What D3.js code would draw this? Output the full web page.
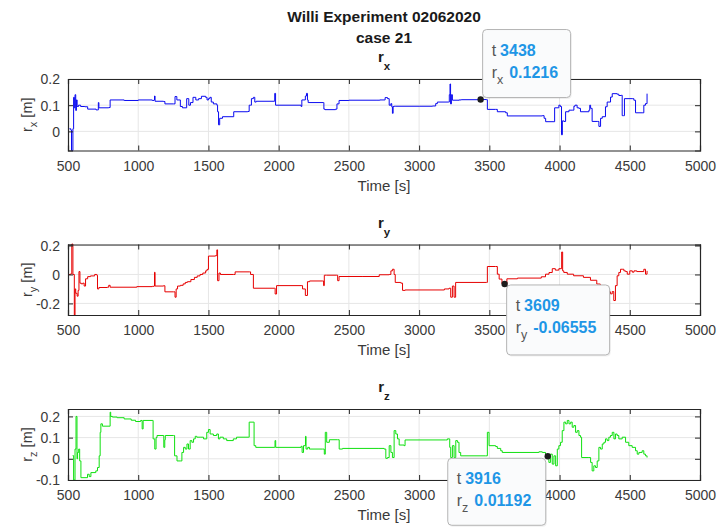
<!DOCTYPE html>
<html><head><meta charset="utf-8">
<script src="https://cdn.jsdelivr.net/npm/d3@7"></script>
<style>
html,body{margin:0;padding:0;background:#fff;}
svg{display:block;font-family:"Liberation Sans",Arial,Helvetica,sans-serif;}
</style></head>
<body>
<svg id="chart" width="718" height="527"></svg>
<script>
const figTitle = ["Willi Experiment 02062020", "case 21"];
const xTicks = [500, 1000, 1500, 2000, 2500, 3000, 3500, 4000, 4500, 5000];

const rxTime = [510,520,525,532,535,540,545,550,555,560,565,575,590,620,640,700,712,716,720,790,800,900,1000,1100,1112,1116,1120,1180,1190,1250,1262,1275,1300,1315,1345,1360,1372,1390,1410,1430,1450,1480,1490,1500,1510,1520,1535,1560,1565,1572,1580,1600,1675,1680,1780,1790,1800,1806,1820,1830,1840,1970,1972,1978,2160,2165,2190,2198,2205,2210,2318,2322,2330,2405,2415,2430,2500,2700,2720,2751,2758,2775,2787,2799,2805,2810,2815,2822,2834,3000,3095,3118,3130,3210,3215,3220,3224,3230,3237,3284,3300,3438,3480,3486,3545,3557,3616,3628,3877,3890,3901,3960,3965,3995,4005,4014,4020,4031,4043,4067,4090,4102,4110,4125,4138,4149,4209,4215,4221,4232,4268,4280,4292,4304,4327,4339,4363,4375,4410,4422,4440,4446,4455,4462,4517,4529,4541,4588,4600,4612,4623];
const rxValue = [0.01,0.005,-0.073,-0.073,0.01,0.13,0.09,0.14,0.08,0.12,0.095,0.1,0.095,0.094,0.085,0.082,0.082,0.11,0.09,0.091,0.12,0.118,0.12,0.118,0.12,0.135,0.115,0.114,0.105,0.105,0.133,0.12,0.095,0.09,0.125,0.1,0.11,0.13,0.12,0.125,0.134,0.13,0.12,0.125,0.13,0.112,0.105,0.1,0.075,0.025,0.05,0.056,0.056,0.075,0.076,0.1,0.1,0.125,0.13,0.112,0.115,0.116,0.145,0.1,0.095,0.12,0.135,0.145,0.12,0.11,0.11,0.085,0.083,0.085,0.105,0.118,0.119,0.119,0.12,0.12,0.129,0.125,0.1,0.106,0.094,0.069,0.095,0.096,0.096,0.096,0.097,0.106,0.112,0.112,0.14,0.181,0.105,0.14,0.119,0.12,0.121,0.1216,0.121,0.084,0.084,0.075,0.071,0.059,0.06,0.05,0.037,0.037,0.09,0.1,0.095,-0.013,0.04,0.038,0.075,0.081,0.081,0.096,0.1,0.09,0.088,0.075,0.081,0.1,0.088,0.038,0.038,0.019,0.05,0.056,0.094,0.112,0.131,0.144,0.142,0.137,0.138,0.06,0.06,0.125,0.125,0.119,0.071,0.071,0.1,0.106,0.144];

const ryTime = [505,520,527,535,545,550,555,565,572,578,585,595,605,615,625,640,660,690,705,710,720,780,790,800,990,1100,1112,1116,1120,1180,1190,1250,1262,1270,1280,1300,1320,1335,1350,1375,1400,1420,1440,1460,1480,1490,1500,1550,1560,1565,1575,1585,1680,1690,1790,1800,1820,1970,1975,1985,2160,2170,2190,2205,2220,2310,2320,2325,2340,2410,2420,2430,2600,2716,2787,2799,2810,2822,2830,2870,2882,2900,3180,3213,3225,3237,3249,3260,3480,3486,3545,3557,3570,3590,3609,3625,3700,3870,3900,3925,3948,3970,3995,4015,4022,4030,4055,4100,4170,4210,4220,4265,4290,4315,4340,4363,4375,4386,4398,4410,4422,4434,4446,4458,4470,4482,4500,4518,4530,4550,4600,4612,4623];
const ryValue = [0.0,0.005,0.21,0.0,-0.28,-0.1,-0.13,-0.15,-0.11,0.02,-0.06,-0.065,-0.06,-0.08,-0.03,-0.015,-0.01,0.0,-0.005,-0.1,-0.09,-0.088,-0.075,-0.088,-0.084,-0.082,-0.08,0.015,-0.08,-0.078,-0.12,-0.12,-0.157,-0.1,-0.08,-0.075,-0.065,-0.055,-0.05,-0.035,-0.02,-0.01,0.0,0.01,0.025,0.035,0.127,0.13,0.17,-0.043,0.01,0.0,0.0,0.018,0.018,0.0,-0.095,-0.095,-0.135,-0.077,-0.077,-0.1,-0.145,-0.05,-0.045,-0.045,-0.077,-0.005,-0.005,-0.005,-0.043,-0.014,-0.014,-0.002,0.0,0.025,0.036,0.0,-0.055,-0.06,-0.11,-0.107,-0.1,-0.095,-0.157,-0.08,-0.157,-0.055,-0.055,0.055,0.055,0.002,-0.032,-0.065,-0.06555,-0.03,-0.025,-0.016,0.002,0.0136,0.04,0.03,0.04,0.155,0.025,0.014,0.002,-0.009,-0.02,-0.02,-0.04,-0.066,-0.089,-0.11,-0.12,-0.134,-0.118,-0.18,-0.077,-0.009,0.014,0.036,0.036,0.025,0.02,0.002,0.025,0.016,0.025,0.02,0.036,0.002,0.025];

const rzTime = [533,540,550,557,564,568,576,583,592,639,651,663,698,710,722,729,734,745,792,800,804,816,850,900,950,981,1017,1028,1035,1099,1106,1118,1127,1134,1177,1182,1189,1193,1252,1259,1276,1299,1311,1323,1335,1347,1358,1370,1382,1394,1406,1417,1441,1465,1488,1500,1512,1535,1559,1571,1582,1606,1630,1677,1700,1783,1790,1818,1825,1837,1971,1974,1979,2160,2167,2177,2191,2195,2207,2219,2313,2325,2332,2342,2361,2420,2431,2455,2714,2751,2763,2775,2787,2799,2810,2822,2834,2846,2858,2893,2900,3190,3201,3218,3225,3237,3249,3261,3273,3284,3296,3474,3486,3498,3545,3557,3581,3592,3853,3877,3900,3916,3924,3936,3948,3960,3972,3984,3995,4007,4019,4031,4043,4055,4067,4079,4090,4102,4114,4126,4138,4149,4157,4209,4221,4232,4244,4256,4268,4280,4292,4304,4316,4327,4339,4351,4363,4375,4387,4398,4410,4422,4446,4470,4493,4517,4541,4553,4565,4588,4600,4612,4623];
const rzValue = [0.015,-0.1,0.046,0.2,0.0,0.03,0.046,-0.01,-0.089,-0.073,-0.084,-0.065,-0.057,-0.041,0.014,0.125,0.165,0.154,0.154,0.22,0.2,0.197,0.194,0.188,0.182,0.176,0.181,0.141,0.181,0.181,0.094,0.046,0.1,0.11,0.11,0.054,0.09,0.11,0.11,0.014,-0.01,-0.01,0.03,0.054,0.046,0.07,0.046,0.086,0.078,0.094,0.106,0.102,0.102,0.094,0.125,0.138,0.117,0.11,0.117,0.094,0.102,0.094,0.086,0.094,0.102,0.102,0.173,0.173,0.062,0.054,0.054,0.086,0.054,0.059,0.03,0.062,0.106,0.046,0.054,0.046,0.046,0.022,0.125,0.078,0.09,0.09,0.046,0.049,0.049,0.046,0.002,0.006,0.062,0.03,0.006,0.133,0.117,0.094,0.065,0.062,0.089,0.089,0.094,0.054,0.006,0.062,0.006,0.086,0.078,0.03,0.014,0.014,0.125,0.062,0.058,0.049,0.038,0.03,0.033,0.03,0.017,0.01192,-0.017,0.022,-0.025,0.014,-0.033,0.046,0.062,0.078,0.133,0.173,0.165,0.181,0.165,0.173,0.149,0.157,0.125,0.133,0.11,0.102,0.006,0.006,-0.017,-0.057,-0.033,-0.041,-0.01,0.054,0.046,0.07,0.078,0.094,0.086,0.102,0.11,0.125,0.094,0.117,0.11,0.094,0.102,0.078,0.062,0.054,0.038,0.022,0.03,0.038,0.022,0.014,0.006];

const panels = [
  {name:"x", time:rxTime, value:rxValue, color:"#0a0af0", yDomain:[-0.073,0.2], yTicks:[0,0.1,0.2], yTickLabels:["0","0.1","0.2"],
   top:79, bottom:150.5, tipT:3438, tipV:0.1216, tipLabel:"0.1216", tipPos:"upright"},
  {name:"y", time:ryTime, value:ryValue, color:"#e60000", yDomain:[-0.28,0.207], yTicks:[-0.2,0,0.2], yTickLabels:["-0.2","0","0.2"],
   top:244.5, bottom:315, tipT:3609, tipV:-0.06555, tipLabel:"-0.06555", tipPos:"downright"},
  {name:"z", time:rzTime, value:rzValue, color:"#10e010", yDomain:[-0.1,0.235], yTicks:[-0.1,0,0.1,0.2], yTickLabels:["-0.1","0","0.1","0.2"],
   top:409, bottom:480, tipT:3916, tipV:0.01192, tipLabel:"0.01192", tipPos:"downleft"}
];

const svg = d3.select("#chart");
const left = 68, right = 700;
const axisCol = "#262626", textCol = "#3a3a3a", gridCol = "#e6e6e6";
const tipLayer = [];

svg.append("text").attr("x",384).attr("y",22).attr("text-anchor","middle")
  .attr("font-size","15.5px").attr("font-weight","bold").attr("fill","#1a1a1a").text(figTitle[0]);
svg.append("text").attr("x",384).attr("y",43).attr("text-anchor","middle")
  .attr("font-size","15.5px").attr("font-weight","bold").attr("fill","#1a1a1a").text(figTitle[1]);

panels.forEach(p => {
  const x = d3.scaleLinear().domain([500,5000]).range([left,right]);
  const y = d3.scaleLinear().domain(p.yDomain).range([p.bottom,p.top]);
  const g = svg.append("g");

  // grid
  g.append("g").selectAll("line").data(xTicks.slice(1,-1)).join("line")
    .attr("x1",d=>x(d)).attr("x2",d=>x(d)).attr("y1",p.top).attr("y2",p.bottom)
    .attr("stroke",gridCol).attr("stroke-width",1);
  g.append("g").selectAll("line").data(p.yTicks).join("line")
    .attr("x1",left).attr("x2",right).attr("y1",d=>y(d)).attr("y2",d=>y(d))
    .attr("stroke",gridCol).attr("stroke-width",1);

  // data line
  const pts = p.time.map((t,i)=>[t,p.value[i]]);
  g.append("path").datum(pts)
    .attr("d", d3.line().curve(d3.curveStepAfter).x(d=>x(d[0])).y(d=>y(d[1])))
    .attr("fill","none").attr("stroke",p.color).attr("stroke-width",1)
    .attr("stroke-linejoin","round");

  // axes
  const tickLen = 5;
  const xb = d3.axisBottom(x).tickValues(xTicks).tickSize(-tickLen).tickPadding(8).tickFormat(d3.format("d"));
  const xt = d3.axisTop(x).tickValues(xTicks).tickSize(-tickLen).tickFormat("");
  const yl = d3.axisLeft(y).tickValues(p.yTicks).tickSize(-tickLen).tickPadding(8).tickFormat((d,i)=>p.yTickLabels[i]);
  const yr = d3.axisRight(y).tickValues(p.yTicks).tickSize(-tickLen).tickFormat("");
  const styleAxis = sel => {
    sel.select(".domain").attr("stroke",axisCol).attr("stroke-width",1.2);
    sel.selectAll(".tick line").attr("stroke",axisCol);
    sel.selectAll("text").attr("fill",textCol).attr("font-size","14px")
      .attr("font-family","'Liberation Sans',Arial,sans-serif");
  };
  g.append("g").attr("transform",`translate(0,${p.bottom})`).call(xb).call(styleAxis)
    .selectAll(".tick text").attr("dy",null).attr("y",20).attr("dominant-baseline","auto");
  g.append("g").attr("transform",`translate(0,${p.top})`).call(xt).call(styleAxis);
  g.append("g").attr("transform",`translate(${left},0)`).call(yl).call(styleAxis)
    .selectAll(".tick text").attr("dy","0.35em");
  g.append("g").attr("transform",`translate(${right},0)`).call(yr).call(styleAxis);

  // x label
  g.append("text").attr("x",384).attr("y",p.bottom+40).attr("text-anchor","middle")
    .attr("font-size","15px").attr("fill",textCol).text("Time [s]");

  // y label
  const cy = (p.top+p.bottom)/2;
  const yLab = g.append("text").attr("transform",`translate(32,${cy}) rotate(-90)`)
    .attr("text-anchor","middle").attr("font-size","14.5px").attr("fill",textCol);
  yLab.append("tspan").text("r");
  yLab.append("tspan").attr("font-size","11px").attr("dy",5).text(p.name);
  yLab.append("tspan").attr("dy",-5).text(" [m]");

  // subplot title
  const st = g.append("text").attr("x",384).attr("y",p.top-17).attr("text-anchor","middle")
    .attr("font-size","15px").attr("font-weight","bold").attr("fill","#1a1a1a");
  st.append("tspan").text("r");
  st.append("tspan").attr("font-size","11.5px").attr("dy",8).text(p.name);

  tipLayer.push({p, px:x(p.tipT), py:y(p.tipV)});
});

// data tips drawn on top
tipLayer.forEach(({p,px,py}) => {
  const w = p.tipPos==="downright" ? 103 : (p.tipPos==="upright" ? 88 : 98);
  const h = p.tipPos==="upright" ? 68 : (p.tipPos==="downright" ? 70 : 67);
  let bx, by;
  if (p.tipPos==="upright") { bx = px+2; by = py-70; }
  else if (p.tipPos==="downright") { bx = px+2; by = py+1; }
  else { bx = px-w-2; by = py+2; }
  const g = svg.append("g");
  g.append("rect").attr("x",bx+1).attr("y",by+1.5).attr("width",w).attr("height",h).attr("rx",4)
    .attr("fill","#000").attr("opacity",0.06);
  g.append("rect").attr("x",bx).attr("y",by).attr("width",w).attr("height",h).attr("rx",4)
    .attr("fill","#fafbfc").attr("stroke","#b4b4b4").attr("stroke-width",1);
  g.append("circle").attr("cx",px).attr("cy",py).attr("r",3.2).attr("fill","#1c1c1c");
  const tx = bx+9;
  const t1 = g.append("text").attr("x",tx).attr("y",by+26).attr("font-size","16px");
  t1.append("tspan").attr("fill","#555").text("t");
  t1.append("tspan").attr("fill","#1e96e6").attr("font-weight","bold").attr("dx",4).text(String(p.tipT));
  const t2 = g.append("text").attr("x",tx).attr("y",by+48).attr("font-size","16px");
  t2.append("tspan").attr("fill","#555").text("r");
  t2.append("tspan").attr("fill","#555").attr("font-size","12.5px").attr("dy",6).text(p.name);
  t2.append("tspan").attr("fill","#1e96e6").attr("font-weight","bold").attr("dy",-6).attr("dx",6).text(p.tipLabel);
});
</script>
</body></html>
